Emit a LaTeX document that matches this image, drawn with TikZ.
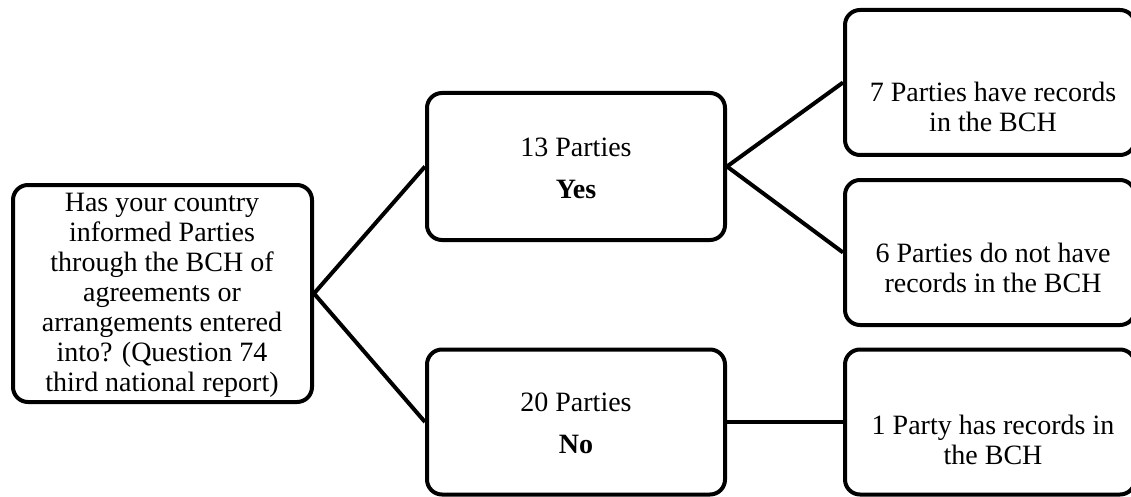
\documentclass[tikz,border=0pt]{standalone}
\usepackage{fontspec}
\setmainfont{Liberation Serif}
\begin{document}
\begin{tikzpicture}[x=1pt,y=-1pt,
  box/.style={draw=black, line width=4pt, rounded corners=15pt, fill=white, inner sep=0pt},
  txt/.style={align=center, inner sep=0pt, font=\fontsize{28}{30}\selectfont},
  link/.style={draw=black, line width=4pt}]
\useasboundingbox (0,0) rectangle (1131,497);
% boxes
\node[box, minimum width=299pt, minimum height=217pt] (q) at (162.5,293.5) {};
\node[box, minimum width=298pt, minimum height=147pt] (yes) at (576,166.5) {};
\node[box, minimum width=298pt, minimum height=145pt] (no) at (576,422) {};
\node[box, minimum width=290pt, minimum height=145pt] (r1) at (990,82.5) {};
\node[box, minimum width=290pt, minimum height=145pt] (r2) at (990,252.5) {};
\node[box, minimum width=290pt, minimum height=145pt] (r3) at (990,422) {};
% connectors
\draw[link] (q.east) -- (yes.west);
\draw[link] (q.east) -- (no.west);
\draw[link] (yes.east) -- (r1.west);
\draw[link] (yes.east) -- (r2.west);
\draw[link] (no.east) -- (r3.west);
% texts
\node[txt] (qt) at (162,295) {Has your country\\informed Parties\\through the BCH of\\agreements or\\arrangements entered\\into? (Question 74\\third national report)};
\node[txt] (yt) at (576,168) {13 Parties\\[12pt]\textbf{Yes}};
\node[txt] (nt) at (576,423) {20 Parties\\[12pt]\textbf{No}};
\node[txt] (r1t) at (993,107) {7 Parties have records\\in the BCH};
\node[txt] (r2t) at (993,268) {6 Parties do not have\\records in the BCH};
\node[txt] (r3t) at (993,440) {1 Party has records in\\the BCH};
\end{tikzpicture}
\end{document}
